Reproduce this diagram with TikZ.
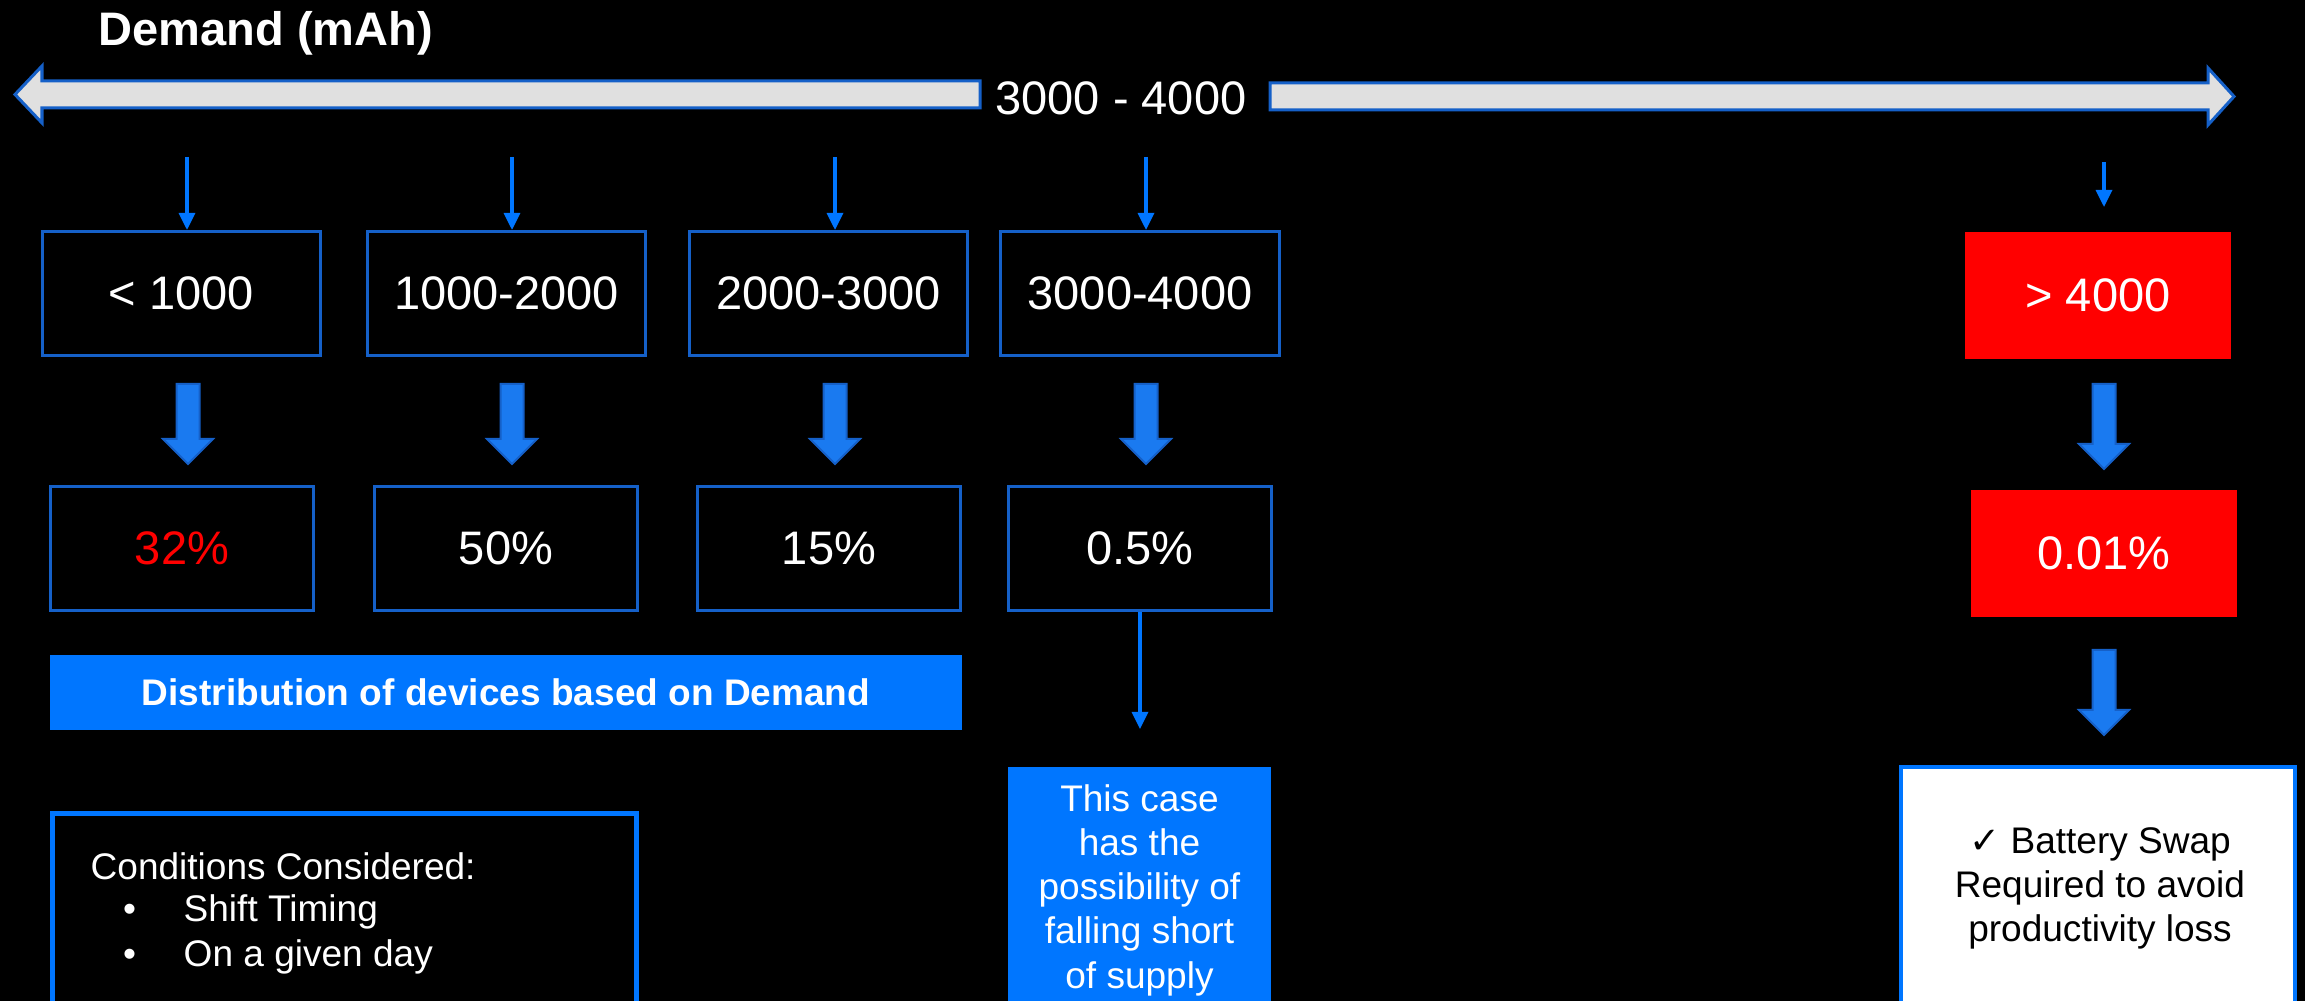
\documentclass[tikz,border=0pt]{standalone}
\usepackage{fontspec}
\setmainfont{Liberation Sans}
\newfontfamily\symbolfont{DejaVu Sans}
\usetikzlibrary{arrows.meta,calc}

\definecolor{boxblue}{RGB}{21,96,200}
\definecolor{brightblue}{RGB}{0,118,255}
\definecolor{arrowfill}{RGB}{26,122,240}
\definecolor{arrowedge}{RGB}{21,96,200}
\definecolor{shaftgray}{RGB}{224,224,224}
\definecolor{alertred}{RGB}{255,0,0}

% thick block arrow pointing down: #1 tail centre, #2 tip
\newcommand\dnblockarrow[2]{%
  \draw[blockarrow] ($(#1)+(-11.5,0)$) -- ($(#2)+(-11.5,-25)$) -- ($(#2)+(-25,-25)$)
    -- (#2) -- ($(#2)+(25,-25)$) -- ($(#2)+(11.5,-25)$) -- ($(#1)+(11.5,0)$) -- cycle;}

\begin{document}
\begin{tikzpicture}[x=0.01cm,y=-0.01cm,
  bigtext/.style={font=\fontsize{13.37}{16}\selectfont, text=white},
  smalltext/.style={font=\fontsize{10.53}{12.59}\selectfont},
  rangebox/.style={draw=boxblue, line width=0.03cm, minimum width=2.78cm,
    minimum height=1.24cm, inner sep=0pt, bigtext},
  sharebox/.style={draw=boxblue, line width=0.03cm, minimum width=2.63cm,
    minimum height=1.24cm, inner sep=0pt, bigtext},
  alertbox/.style={fill=alertred, minimum width=2.66cm, minimum height=1.27cm,
    inner sep=0pt, bigtext},
  thinarrow/.style={draw=brightblue, line width=0.033cm,
    -{Triangle[length=0.17cm,width=0.16cm]}},
  blockarrow/.style={fill=arrowfill, draw=arrowedge, line width=0.02cm, line join=miter},
  axisarrow/.style={fill=shaftgray, draw=boxblue, line width=0.03cm, line join=miter},
]
\useasboundingbox (0,0) rectangle (2305,1001);
\fill[black] (0,0) rectangle (2305,1001);
\clip (0,0) rectangle (2305,1001);

% heading and demand axis
\node[bigtext, font=\fontsize{13.37}{16}\selectfont\bfseries, anchor=base west, inner sep=0pt]
  (title) at (98,46) {Demand (mAh)};
\draw[axisarrow] (15,94.5) -- (42,66) -- (42,81) -- (980,81) -- (980,108) -- (42,108)
  -- (42,123) -- cycle;
\draw[axisarrow] (2234,96.5) -- (2208,68) -- (2208,83) -- (1270,83) -- (1270,110)
  -- (2208,110) -- (2208,125) -- cycle;
\node[bigtext, anchor=base, inner sep=0pt] (axislabel) at (1121,115) {3000 - 4000};

% demand ranges
\node[rangebox] (b1) at (181.5,293.5) {< 1000};
\node[rangebox] (b2) at (506.5,293.5) {1000-2000};
\node[rangebox] (b3) at (828.5,293.5) {2000-3000};
\node[rangebox] (b4) at (1140,293.5) {3000-4000};
\node[alertbox] (b5) at (2098,295.5) {> 4000};

\coordinate (t1) at (187,157);
\coordinate (t2) at (512,157);
\coordinate (t3) at (835,157);
\coordinate (t4) at (1146,157);
\coordinate (t5) at (2104,162);
\coordinate (t5e) at (2104,207);
\draw[thinarrow] (t1) -- (t1 |- b1.north);
\draw[thinarrow] (t2) -- (t2 |- b2.north);
\draw[thinarrow] (t3) -- (t3 |- b3.north);
\draw[thinarrow] (t4) -- (t4 |- b4.north);
\draw[thinarrow] (t5) -- (t5e);

% shares of devices
\node[sharebox, text=alertred] (p1) at (182,548.5) {32\%};
\node[sharebox] (p2) at (506,548.5) {50\%};
\node[sharebox] (p3) at (829,548.5) {15\%};
\node[sharebox] (p4) at (1140,548.5) {0.5\%};
\node[alertbox] (p5) at (2104,553.5) {0.01\%};

\coordinate (u1) at (188,384); \coordinate (v1) at (188,464);
\coordinate (u2) at (512,384); \coordinate (v2) at (512,464);
\coordinate (u3) at (835,384); \coordinate (v3) at (835,464);
\coordinate (u4) at (1146,384); \coordinate (v4) at (1146,464);
\coordinate (u5) at (2104,384); \coordinate (v5) at (2104,469);
\coordinate (u6) at (2104,650); \coordinate (v6) at (2104,735);
\dnblockarrow{u1}{v1}
\dnblockarrow{u2}{v2}
\dnblockarrow{u3}{v3}
\dnblockarrow{u4}{v4}
\dnblockarrow{u5}{v5}
\dnblockarrow{u6}{v6}

% caption bar
\node[fill=brightblue, minimum width=9.12cm, minimum height=0.75cm, inner sep=0pt,
  smalltext, text=white, font=\fontsize{10.53}{12.59}\selectfont\bfseries]
  (caption) at (506,692.5) {Distribution of devices based on Demand};

% supply note
\node[fill=brightblue, anchor=north, minimum width=2.63cm, minimum height=2.6cm,
  inner sep=0pt] (supply) at (1139.5,766) {};
\node[smalltext, text=white, align=center, inner sep=0pt] (supplytext) at (1139.5,890)
  {This case\\has the\\possibility of\\falling short\\of supply};
\coordinate (supplytip) at (1143,729);
\draw[thinarrow] (p4.south) -- (p4.south |- supplytip);

% conditions
\node[draw=brightblue, line width=0.05cm, anchor=north west, minimum width=5.84cm,
  minimum height=2.6cm, inner sep=0pt] (conditions) at (50,811) {};
\node[smalltext, text=white, anchor=base west, inner sep=0pt] (condtitle) at (90,880)
  {Conditions Considered:};
\node[smalltext, text=white, anchor=base west, inner sep=0pt] (cond1) at (122.5,922)
  {\makebox[0.605cm][l]{•}Shift Timing};
\node[smalltext, text=white, anchor=base west, inner sep=0pt] (cond2) at (122.5,967)
  {\makebox[0.605cm][l]{•}On a given day};

% battery swap note
\node[draw=brightblue, fill=white, line width=0.04cm, anchor=north west,
  minimum width=3.94cm, minimum height=2.6cm, inner sep=0pt] (swap) at (1899,765) {};
\node[smalltext, text=black, align=center, inner sep=0pt] (swaptext) at (2100,888.5)
  {{\symbolfont ✓} Battery Swap\\Required to avoid\\productivity loss};
\end{tikzpicture}
\end{document}
